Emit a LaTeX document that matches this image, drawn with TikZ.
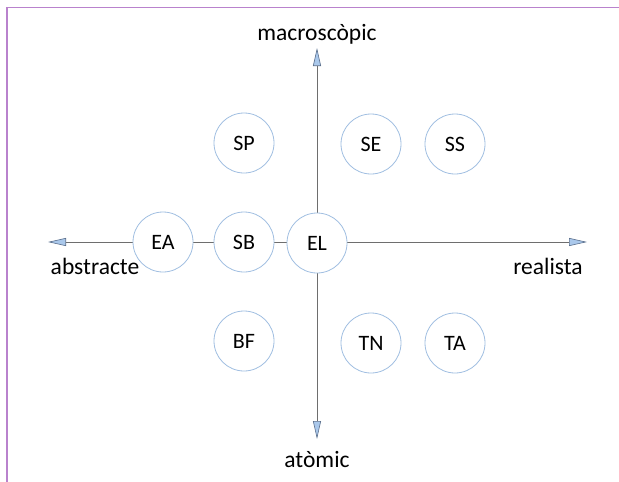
\documentclass[tikz,border=0pt]{standalone}
\usepackage{fontspec}
\setmainfont{Carlito}
\usetikzlibrary{arrows.meta}
\definecolor{framepurple}{RGB}{185,130,205}
\definecolor{ringblue}{RGB}{160,190,225}
\definecolor{tipfill}{RGB}{170,200,235}
\definecolor{tipedge}{RGB}{90,110,140}
\definecolor{axisgray}{RGB}{110,110,110}
\tikzset{
  cell/.style={circle,draw=ringblue,line width=0.8pt,fill=white,minimum size=60pt,inner sep=0pt,font=\fontsize{22}{26}\selectfont},
  axislabel/.style={font=\fontsize{23.5}{28}\selectfont},
  axis/.style={draw=axisgray,line width=0.9pt,-{Triangle[length=18pt,width=8pt,fill=tipfill,color=tipedge,line width=0.6pt]}}
}
\begin{document}
\begin{tikzpicture}[x=1pt,y=-1pt]
	\useasboundingbox (0,0) rectangle (619,482);
	\draw[framepurple,line width=1.8pt] (7,482) -- (7,7.5) -- (619,7.5);
	% axes
	\coordinate (o) at (317,242);
	\coordinate (top) at (317,48);
	\coordinate (bottom) at (317,439);
	\coordinate (left) at (48,242);
	\coordinate (right) at (587,242);
	\draw[axis] (o) -- (top);
	\draw[axis] (o) -- (bottom);
	\draw[axis] (o) -- (left);
	\draw[axis] (o) -- (right);
	\node[axislabel] (macro) at (317,34) {macroscòpic};
	\node[axislabel] (atomic) at (317,459) {atòmic};
	\node[axislabel] (abstr) at (95,266) {abstracte};
	\node[axislabel] (real) at (548,266) {realista};
	% circles
	\node[cell] (SP) at (244,143) {SP};
	\node[cell] (SE) at (371,144) {SE};
	\node[cell] (SS) at (455,144) {SS};
	\node[cell] (EA) at (163,242) {EA};
	\node[cell] (SB) at (244,242) {SB};
	\node[cell] (EL) at (317,243) {EL};
	\node[cell] (BF) at (244,341) {BF};
	\node[cell] (TN) at (371,343) {TN};
	\node[cell] (TA) at (455,343) {TA};
\end{tikzpicture}
\end{document}
